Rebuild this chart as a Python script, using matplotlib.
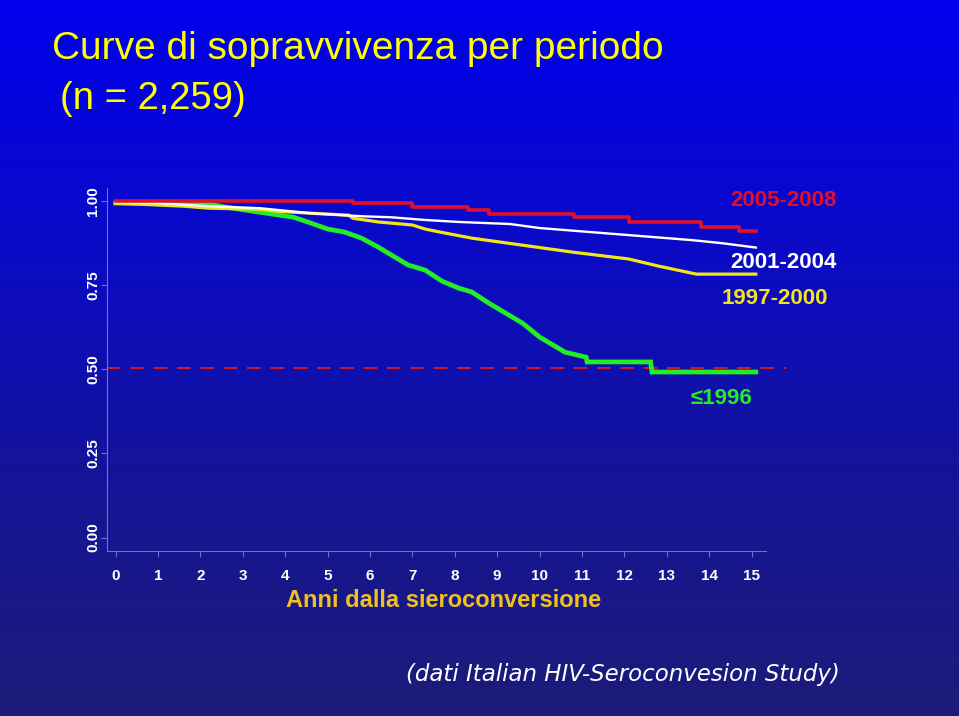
import numpy as np
import matplotlib
matplotlib.use("Agg")
import matplotlib.pyplot as plt
from matplotlib.colors import LinearSegmentedColormap

# survival curves (years, survival)
t_2005 = [0, 5.6, 7.0, 8.3, 8.8, 10.8, 12.1, 13.8, 14.7, 15.1]
s_2005 = [1.0, 0.994, 0.982, 0.973, 0.961, 0.953, 0.938, 0.923, 0.911, 0.911]

t_2001 = [0, 1.0, 2.2, 3.4, 4.6, 5.8, 6.5, 7.3, 8.1, 9.3, 10.0, 11.2, 12.4, 13.6, 14.3, 15.1]
s_2001 = [0.997, 0.994, 0.985, 0.979, 0.964, 0.955, 0.952, 0.944, 0.938, 0.932, 0.920,
          0.908, 0.896, 0.884, 0.875, 0.862]

t_1997 = [0, 1.6, 2.2, 3.4, 3.8, 4.6, 5.5, 5.6, 6.2, 7.0, 7.3, 7.65, 8.4, 9.6, 10.8,
          12.1, 12.8, 13.7, 15.1]
s_1997 = [0.994, 0.985, 0.979, 0.976, 0.970, 0.964, 0.958, 0.949, 0.938, 0.929, 0.917,
          0.908, 0.890, 0.869, 0.848, 0.828, 0.807, 0.783, 0.783]

t_1996 = [0, 2.2, 2.6, 3.4, 4.2, 4.6, 5.0, 5.4, 5.8, 6.2, 6.5, 6.9, 7.3, 7.7, 8.1, 8.4,
          8.8, 9.2, 9.6, 10.0, 10.6, 11.1, 11.12, 12.62, 12.65, 15.1]
s_1996 = [0.994, 0.991, 0.982, 0.967, 0.952, 0.935, 0.917, 0.908, 0.890, 0.863, 0.840,
          0.810, 0.795, 0.762, 0.741, 0.730, 0.697, 0.667, 0.637, 0.596, 0.551, 0.536,
          0.522, 0.522, 0.492, 0.492]

median_line = 0.505
x_ticks = list(range(16))
y_ticks = [0.0, 0.25, 0.5, 0.75, 1.0]

fig = plt.figure(figsize=(9.59, 7.16), dpi=100)

# background gradient
bg = fig.add_axes([0, 0, 1, 1], zorder=-10)
cmap = LinearSegmentedColormap.from_list("bg", ["#0000ee", "#0a0ac8", "#141498", "#1c1c78"])
grad = np.linspace(0, 1, 256).reshape(-1, 1)
bg.imshow(grad, aspect="auto", cmap=cmap, extent=[0, 1, 0, 1], origin="upper")
bg.axis("off")

ax = fig.add_axes([107 / 959, 165 / 716, 659 / 959, 363 / 716])
ax.patch.set_alpha(0)
ax.set_xlim(-0.203, 15.34)
ax.set_ylim(-0.040, 1.039)

ax.plot(t_1996, s_1996, color="#22ee22", lw=3.4, zorder=3, solid_joinstyle="miter")
ax.plot(t_1997, s_1997, color="#f2e61a", lw=2.3, zorder=4)
ax.plot(t_2001, s_2001, color="white", lw=1.7, zorder=5)
ax.plot(t_2005, s_2005, drawstyle="steps-post", color="#e0102a", lw=2.6, zorder=6)
ax.plot([-0.2, 15.8], [median_line, median_line], color="#d01830", lw=1.4,
        dashes=(7, 5), clip_on=False, zorder=2)

for side in ["top", "right"]:
    ax.spines[side].set_visible(False)
for side in ["left", "bottom"]:
    ax.spines[side].set_color("#7070d0")
    ax.spines[side].set_linewidth(0.8)

ax.set_yticks(y_ticks)
ax.set_yticklabels(["%.2f" % v for v in y_ticks], rotation=90, va="center",
                   fontsize=11, fontweight="bold", color="white", family="Liberation Sans")
ax.set_xticks(x_ticks)
ax.set_xticklabels([str(v) for v in x_ticks], fontsize=11, fontweight="bold",
                   color="white", family="Liberation Sans")
ax.tick_params(axis="both", colors="#7070d0", length=4, width=0.8)
ax.tick_params(axis="x", pad=9, labelcolor="white")
ax.tick_params(axis="y", pad=1, labelcolor="white")

ax.set_xlabel("Anni dalla sieroconversione", fontsize=17, fontweight="bold",
              color="#f0c020", family="Liberation Sans", labelpad=7)
ax.xaxis.set_label_coords(0.511, -0.105)

# curve labels
ax.text(15.74, 1.003, "2005-2008", color="#e0102a", fontsize=16, fontweight="bold",
        ha="center", va="center", family="Liberation Sans")
ax.text(15.74, 0.818, "2001-2004", color="white", fontsize=16, fontweight="bold",
        ha="center", va="center", family="Liberation Sans")
ax.text(15.54, 0.711, "1997-2000", color="#f2e61a", fontsize=16, fontweight="bold",
        ha="center", va="center", family="Liberation Sans")
ax.text(14.28, 0.414, "\u22641996", color="#22ee22", fontsize=16, fontweight="bold",
        ha="center", va="center", family=["Liberation Sans", "DejaVu Sans"])

fig.text(52 / 959, 1 - 49 / 716, "Curve di sopravvivenza per periodo", color="#ffff00",
         fontsize=28, ha="left", va="center", family="Liberation Sans")
fig.text(60 / 959, 1 - 99 / 716, "(n = 2,259)", color="#ffff00",
         fontsize=27.5, ha="left", va="center", family="Liberation Sans")

fig.text(840 / 959, 1 - 674 / 716, "(dati Italian HIV-Seroconvesion Study)", color="white",
         fontsize=16.5, style="italic", ha="right", va="center", family="DejaVu Sans")

fig.savefig("out.png", dpi=100)
